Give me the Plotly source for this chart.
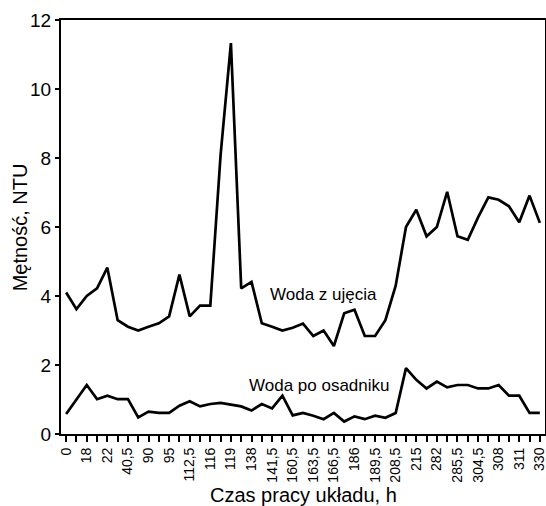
import plotly.graph_objects as go

# Tick labels shown on every second measurement point
tick_labels = ["0", "18", "22", "40,5", "90", "95", "112,5", "116", "119", "138",
               "141,5", "160,5", "163,5", "166,5", "186", "189,5", "208,5", "215",
               "282", "285,5", "304,5", "308", "311", "330"]

# Turbidity of raw water (Woda z ujęcia), NTU
raw_water = [4.1, 3.62, 4.0, 4.22, 4.82, 3.3, 3.11, 3.0, 3.11, 3.21,
             3.41, 4.62, 3.41, 3.72, 3.72, 8.1, 11.33, 4.22, 4.41, 3.21,
             3.11, 3.0, 3.08, 3.2, 2.84, 3.0, 2.55, 3.5, 3.6, 2.84,
             2.84, 3.3, 4.3, 6.0, 6.5, 5.73, 6.0, 7.02, 5.73, 5.63,
             6.28, 6.86, 6.79, 6.6, 6.14, 6.91, 6.12]

# Turbidity after settling tank (Woda po osadniku), NTU
settled_water = [0.58, 0.99, 1.42, 1.01, 1.11, 1.01, 1.01, 0.48, 0.65, 0.61,
                 0.61, 0.82, 0.95, 0.80, 0.87, 0.90, 0.84, 0.80, 0.68, 0.87,
                 0.74, 1.11, 0.54, 0.61, 0.53, 0.43, 0.61, 0.36, 0.51, 0.43,
                 0.53, 0.47, 0.61, 1.91, 1.57, 1.32, 1.52, 1.35, 1.42, 1.42,
                 1.32, 1.32, 1.42, 1.11, 1.11, 0.61, 0.61]

n = len(raw_water)
positions = list(range(n))
tick_text = []
for i in positions:
    tick_text.append(tick_labels[i // 2] if i % 2 == 0 else "")

FONT = "Liberation Sans, Arial, sans-serif"
line_style = dict(color="black", width=2.7)

fig = go.Figure()
fig.add_trace(go.Scatter(x=positions, y=raw_water, mode="lines", line=line_style,
                         name="Woda z ujęcia", showlegend=False))
fig.add_trace(go.Scatter(x=positions, y=settled_water, mode="lines", line=line_style,
                         name="Woda po osadniku", showlegend=False))

fig.update_layout(
    width=546, height=506,
    margin=dict(l=61, r=1, t=20, b=72),
    paper_bgcolor="white", plot_bgcolor="white",
    font=dict(family=FONT, color="black"),
    showlegend=False,
)

fig.update_xaxes(
    range=[-0.5, n - 0.5],
    tickmode="array", tickvals=positions, ticktext=tick_text,
    tickangle=-90, tickfont=dict(size=14, family=FONT),
    ticklabeloverflow="allow",
    ticks="outside", ticklen=6, tickwidth=1.6, tickcolor="black",
    showline=True, linecolor="black", linewidth=2, mirror=True,
    showgrid=False, zeroline=False, automargin=False,
)
fig.update_yaxes(
    range=[0, 12], tickmode="array", tickvals=[0, 2, 4, 6, 8, 10, 12],
    tickfont=dict(size=19, family=FONT),
    ticks="outside", ticklen=4, tickwidth=1.6, tickcolor="black",
    showline=True, linecolor="black", linewidth=2, mirror=True,
    showgrid=False, zeroline=False, automargin=False,
)

fig.add_annotation(text="Czas pracy układu, h", xref="paper", yref="paper",
                   x=0.5, y=-0.148, yanchor="middle", xanchor="center",
                   showarrow=False, font=dict(size=20, family=FONT))
fig.add_annotation(text="Mętność, NTU", xref="paper", yref="paper",
                   x=-0.084, y=0.5, xanchor="center", yanchor="middle", textangle=-90,
                   showarrow=False, font=dict(size=20, family=FONT))

fig.add_annotation(text="Woda z ujęcia", x=19.6, y=4.03, xref="x", yref="y",
                   xanchor="left", yanchor="middle", showarrow=False,
                   font=dict(size=17, family=FONT))
fig.add_annotation(text="Woda po osadniku", x=17.55, y=1.42, xref="x", yref="y",
                   xanchor="left", yanchor="middle", showarrow=False,
                   font=dict(size=17, family=FONT))

fig.write_html("out.html", config={"displayModeBar": False},
               post_script="document.body.style.margin='0';document.body.style.overflow='hidden';")
